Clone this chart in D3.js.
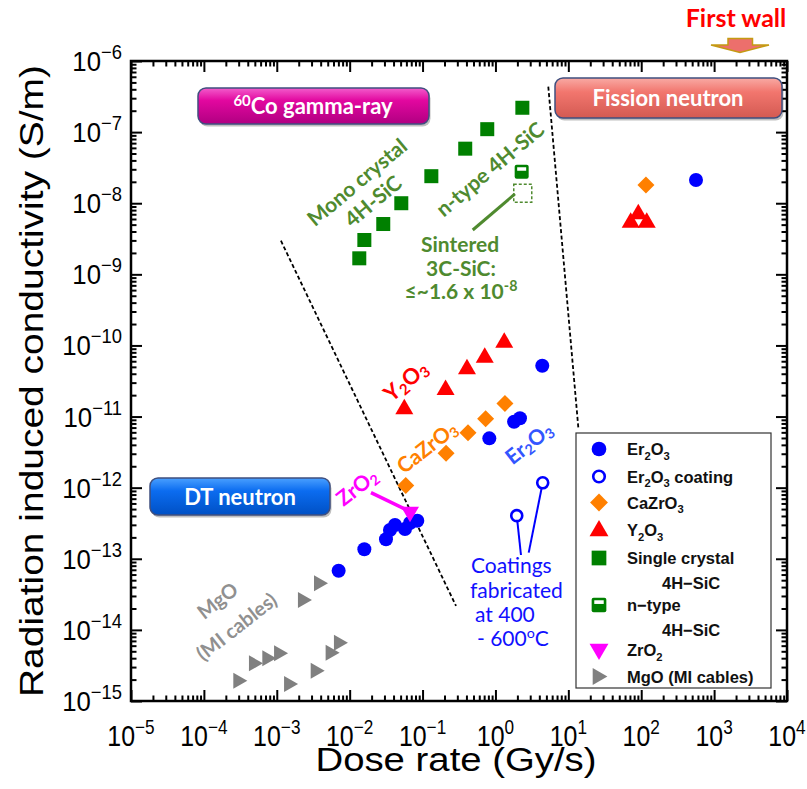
<!DOCTYPE html>
<html>
<head>
<meta charset="utf-8">
<script src="https://cdn.jsdelivr.net/npm/d3@7"></script>
<style>
  body { margin: 0; background: #fff; }
  svg { display: block; }
</style>
</head>
<body>
<script>
// valori: [dose rate (Gy/s), conducibilità (S/m)]
var er2o3 = [[7.06e-3, 6.79e-14], [0.0159, 1.36e-13], [0.0315, 1.88e-13], [0.0357, 2.54e-13], [0.0419, 2.98e-13],
             [0.0574, 2.62e-13], [0.0673, 3.18e-13], [0.0847, 3.43e-13], [0.824, 4.94e-12], [1.80, 8.47e-12],
             [2.17, 9.45e-12], [4.39, 5.19e-11], [564, 2.12e-8]];
var er2o3Coating = [[1.96, 4.04e-13], [4.45, 1.17e-12]];
var cazro3 = [[0.0588, 1.07e-12], [0.210, 3.04e-12], [0.420, 5.93e-12], [0.734, 9.33e-12], [1.35, 1.53e-11], [116, 1.80e-8]];
var y2o3 = [[0.0562, 1.31e-11], [0.207, 2.44e-11], [0.407, 4.77e-11], [0.713, 6.95e-11], [1.32, 1.13e-10],
            [71.7, 5.50e-9], [119, 5.50e-9], [91.2, 7.21e-9]];
var sicSingle = [[0.01355, 1.68e-9], [0.0159, 3.04e-9], [0.0289, 5.1e-9], [0.0511, 1.0e-8], [0.132, 2.4e-8],
                 [0.385, 5.85e-8], [0.772, 1.1e-7], [2.34, 2.2e-7]];
var sicNtype = [[2.29, 2.77e-8]];
var sicSintered = [[2.37, 1.38e-8]];
var zro2 = [[0.0673, 4.45e-13]];
var mgo = [[3.06e-4, 1.93e-15], [5.02e-4, 3.39e-15], [7.66e-4, 3.98e-15], [1.11e-3, 4.69e-15], [1.52e-3, 1.73e-15],
           [2.36e-3, 2.63e-14], [3.53e-3, 2.67e-15], [3.92e-3, 4.52e-14], [5.66e-3, 4.78e-15], [7.36e-3, 6.61e-15]];

// esponenti delle etichette sugli assi
var xExp = [-5, -4, -3, -2, -1, 0, 1, 2, 3, 4];
var yExp = [-15, -14, -13, -12, -11, -10, -9, -8, -7, -6];

// linee tratteggiate che separano le regioni (coordinate nei dati)
var leftBoundary = [[1.14e-3, 2.97e-9], [0.288, 2.17e-14]];
var rightBoundary = [[5.31, 4.36e-7], [13.7, 7.06e-12]];
// linee di richiamo
var coatingLeaders = [[[4.45, 1.17e-12], [2.86, 1.22e-13]], [[1.96, 4.04e-13], [2.24, 1.13e-13]]];
var sinteredLeader = [[0.488, 4.2e-9], [1.85, 1.35e-8]];
var zro2Arrow = [[0.0196, 8.5e-13], [0.0574, 5.0e-13]];

var W = 807, H = 789;
var svg = d3.select("body").append("svg").attr("width", W).attr("height", H);

var x = d3.scaleLog().domain([1e-5, 1e4]).range([131, 787]);
var y = d3.scaleLog().domain([1e-15, 1e-6]).range([701, 61]);

var sans = "'Liberation Sans', Arial, sans-serif";
var cal = "Lato, 'Open Sans', sans-serif";

var defs = svg.append("defs");
function grad(id, c1, c2, c3) {
    var g = defs.append("linearGradient").attr("id", id).attr("x1", 0).attr("y1", 0).attr("x2", 0).attr("y2", 1);
    g.append("stop").attr("offset", "0%").attr("stop-color", c1);
    g.append("stop").attr("offset", "35%").attr("stop-color", c2);
    g.append("stop").attr("offset", "100%").attr("stop-color", c3);
}
grad("gMag", "#f35ccc", "#e2079f", "#b00081");
grad("gFis", "#f9aaa4", "#f2766e", "#d35a52");
grad("gDT", "#4aa0ff", "#0b6cf0", "#0050c4");

// tacche degli assi (interne, su tutti e quattro i lati)
var majors = d3.range(-5, 5).map(function(e) { return Math.pow(10, e); });
var minorsX = [];
d3.range(-5, 4).forEach(function(e) { for (var k = 2; k < 10; k++) minorsX.push(k * Math.pow(10, e)); });
var majorsY = d3.range(-15, -5).map(function(e) { return Math.pow(10, e); });
var minorsY = [];
d3.range(-15, -6).forEach(function(e) { for (var k = 2; k < 10; k++) minorsY.push(k * Math.pow(10, e)); });

function tickGroup(axis, tr) {
    svg.append("g").attr("transform", tr).call(axis)
        .call(function(g) { g.select(".domain").remove(); })
        .selectAll("line").attr("stroke", "#000").attr("stroke-width", 2);
}
[[majorsY, 11], [minorsY, 5.5]].forEach(function(p) {
    tickGroup(d3.axisLeft(y).tickValues(p[0]).tickSize(-p[1]).tickFormat(""), "translate(131,0)");
    tickGroup(d3.axisRight(y).tickValues(p[0]).tickSize(-p[1]).tickFormat(""), "translate(787,0)");
});
[[majors, 11], [minorsX, 5.5]].forEach(function(p) {
    tickGroup(d3.axisBottom(x).tickValues(p[0]).tickSize(-p[1]).tickFormat(""), "translate(0,701)");
    tickGroup(d3.axisTop(x).tickValues(p[0]).tickSize(-p[1]).tickFormat(""), "translate(0,61)");
});
svg.append("rect").attr("x", 131).attr("y", 61).attr("width", 656).attr("height", 640)
    .attr("fill", "none").attr("stroke", "#000").attr("stroke-width", 2.5);

// etichette delle tacche: 10 con esponente, font compresso in orizzontale
function powLabel(px, py, e, anchor, fs, sx) {
    var t = svg.append("text").attr("transform", "translate(" + px + "," + py + ") scale(" + sx + ",1)")
        .attr("text-anchor", anchor).attr("font-family", sans).attr("font-size", fs);
    t.append("tspan").text("10");
    t.append("tspan").attr("font-size", 20).attr("dy", -12).text(String(e).replace("-", "\u2212"));
}
xExp.forEach(function(e) { powLabel(x(Math.pow(10, e)), 746, e, "middle", 29, 0.86); });
yExp.forEach(function(e) { powLabel(122, y(Math.pow(10, e)) + 10, e, "end", 28, 0.92); });

// titoli degli assi
svg.append("text").attr("x", 456).attr("y", 771).attr("text-anchor", "middle")
    .attr("font-family", sans).attr("font-size", 33)
    .attr("textLength", 281).attr("lengthAdjust", "spacingAndGlyphs").text("Dose rate (Gy/s)");
svg.append("text").attr("transform", "translate(43,381) rotate(-90)").attr("text-anchor", "middle")
    .attr("font-family", sans).attr("font-size", 33)
    .attr("textLength", 632).attr("lengthAdjust", "spacingAndGlyphs").text("Radiation induced conductivity (S/m)");

// linee tratteggiate
var line = d3.line().x(function(d) { return x(d[0]); }).y(function(d) { return y(d[1]); });
[leftBoundary, rightBoundary].forEach(function(b) {
    svg.append("path").attr("d", line(b)).attr("fill", "none").attr("stroke", "#000")
        .attr("stroke-width", 1.8).attr("stroke-dasharray", "4,2.5");
});

// testo con pedici / apici
function rich(t, parts, fs) {
    var shift = 0;
    parts.forEach(function(p) {
        var s = t.append("tspan").text(p.t);
        var target = p.sub ? fs * 0.28 : (p.sup ? -fs * 0.38 : 0);
        if (p.sub || p.sup) s.attr("font-size", fs * 0.68);
        if (target !== shift) s.attr("dy", target - shift);
        shift = target;
    });
    return t;
}

// riquadri delle sorgenti di irraggiamento
function labelBox(x0, y0, w, h, fill, parts, tx, ty, fs) {
    svg.append("rect").attr("x", x0 + 1.5).attr("y", y0 + 2.5).attr("width", w).attr("height", h).attr("rx", 8)
        .attr("fill", "#000").attr("opacity", 0.25);
    svg.append("rect").attr("x", x0).attr("y", y0).attr("width", w).attr("height", h).attr("rx", 8)
        .attr("fill", fill).attr("stroke", "#3f4f7f").attr("stroke-width", 1.5);
    var t = svg.append("text").attr("x", tx).attr("y", ty).attr("text-anchor", "middle")
        .attr("font-family", cal).attr("font-weight", "bold").attr("font-size", fs).attr("fill", "#fff");
    rich(t, parts, fs);
}
labelBox(198, 88, 231, 36, "url(#gMag)", [{t: "60", sup: true}, {t: "Co gamma-ray"}], 313, 114, 22);
labelBox(555, 78, 227, 40, "url(#gFis)", [{t: "Fission neutron"}], 668, 106, 22);
labelBox(150, 478, 180, 37, "url(#gDT)", [{t: "DT neutron"}], 240, 505, 22);

// "First wall" con freccia
svg.append("text").attr("x", 736).attr("y", 27).attr("text-anchor", "middle")
    .attr("font-family", cal).attr("font-weight", "bold").attr("font-size", 25).attr("fill", "#ff0000").text("First wall");
svg.append("path").attr("d", "M728,38.5 L752.5,38.5 L752.5,45 L769,45 L740,52.5 L711,45 L728,45 Z")
    .attr("fill", "#ec6f6c").attr("stroke", "#c49a12").attr("stroke-width", 1.5);

// linee di richiamo
coatingLeaders.forEach(function(l) {
    svg.append("path").attr("d", line(l)).attr("stroke", "#0000ff").attr("stroke-width", 2).attr("fill", "none");
});
svg.append("path").attr("d", line(sinteredLeader)).attr("stroke", "#4f8a2f").attr("stroke-width", 3).attr("fill", "none");

// forme dei marcatori
var shapes = {
    circle: function(g, s) { g.append("circle").attr("r", 7 * s).attr("fill", "#0000ff"); },
    ocircle: function(g, s) { g.append("circle").attr("r", 5.5 * s).attr("fill", "#fff").attr("stroke", "#0000ff").attr("stroke-width", 2.6); },
    diamond: function(g, s) { g.append("path").attr("d", "M0,-8.5L8.5,0L0,8.5L-8.5,0Z").attr("transform", "scale(" + s + ")").attr("fill", "#ff8000"); },
    triUp: function(g, s) { g.append("path").attr("d", "M0,-9.5L9,6L-9,6Z").attr("transform", "scale(" + s + ")").attr("fill", "#ff0000"); },
    square: function(g, s) { g.append("rect").attr("x", -7 * s).attr("y", -7 * s).attr("width", 14 * s).attr("height", 14 * s).attr("fill", "#008000"); },
    ntype: function(g, s) {
        g.append("rect").attr("x", -7 * s).attr("y", -7 * s).attr("width", 14 * s).attr("height", 14 * s).attr("rx", 2).attr("fill", "#008000");
        g.append("rect").attr("x", -4.5 * s).attr("y", -4.5 * s).attr("width", 9 * s).attr("height", 3.5 * s).attr("fill", "#fff");
    },
    dashsq: function(g, s) { g.append("rect").attr("x", -9 * s).attr("y", -9 * s).attr("width", 18 * s).attr("height", 18 * s).attr("fill", "none").attr("stroke", "#4f8a2f").attr("stroke-width", 1.5).attr("stroke-dasharray", "3,2"); },
    triDown: function(g, s) { g.append("path").attr("d", "M-9,-6L9,-6L0,9.5Z").attr("transform", "scale(" + s + ")").attr("fill", "#ff00ff"); },
    triRight: function(g, s) { g.append("path").attr("d", "M-6,-8L8,0L-6,8Z").attr("transform", "scale(" + s + ")").attr("fill", "#808080"); }
};

function drawSeries(data, shape) {
    svg.append("g").selectAll("g").data(data).enter().append("g")
        .attr("transform", function(d) { return "translate(" + x(d[0]) + "," + y(d[1]) + ")"; })
        .each(function() { shapes[shape](d3.select(this), 1); });
}
drawSeries(mgo, "triRight");
drawSeries(sicSingle, "square");
drawSeries(sicNtype, "ntype");
drawSeries(sicSintered, "dashsq");
drawSeries(cazro3, "diamond");
drawSeries(y2o3, "triUp");
drawSeries(er2o3, "circle");
drawSeries(er2o3Coating, "ocircle");

// freccia ZrO2
svg.append("path").attr("d", line(zro2Arrow)).attr("stroke", "#ff00ff").attr("stroke-width", 3.5).attr("fill", "none");
drawSeries(zro2, "triDown");

// etichette ruotate vicino ai dati
function rotLabel(cx, cy, ang, parts, fs, color) {
    var t = svg.append("text").attr("transform", "translate(" + cx + "," + cy + ") rotate(" + ang + ")")
        .attr("text-anchor", "middle").attr("dominant-baseline", "central")
        .attr("font-family", cal).attr("font-weight", "bold").attr("font-size", fs).attr("fill", color);
    rich(t, parts, fs);
}
var green = "#4f8a2f";
rotLabel(356, 181, -40, [{t: "Mono crystal"}], 21, green);
rotLabel(372, 200, -40, [{t: "4H-SiC"}], 21, green);
rotLabel(489, 168, -40, [{t: "n-type 4H-SiC"}], 21, green);
rotLabel(405, 380, -40, [{t: "Y"}, {t: "2", sub: true}, {t: "O"}, {t: "3", sub: true}], 22, "#ff0000");
rotLabel(426, 446, -38, [{t: "CaZrO"}, {t: "3", sub: true}], 21, "#ff8000");
rotLabel(528, 442, -38, [{t: "Er"}, {t: "2", sub: true}, {t: "O"}, {t: "3", sub: true}], 21, "#3355ff");
rotLabel(356, 486, -38, [{t: "ZrO"}, {t: "2", sub: true}], 21, "#ff00ff");
rotLabel(217, 600, -38, [{t: "MgO"}], 20, "#909090");
rotLabel(236, 626, -38, [{t: "(MI cables)"}], 20, "#909090");

// testo "Sintered 3C-SiC"
var sint = svg.append("g").attr("font-family", cal).attr("font-weight", "bold").attr("font-size", 21)
    .attr("fill", green).attr("text-anchor", "middle");
sint.append("text").attr("x", 460).attr("y", 252).text("Sintered");
sint.append("text").attr("x", 461).attr("y", 276).text("3C-SiC:");
rich(sint.append("text").attr("x", 461).attr("y", 299),
    [{t: "\u2264~1.6 x 10"}, {t: "-8", sup: true}], 21);

// testo dei rivestimenti
var coat = svg.append("g").attr("font-family", cal).attr("font-size", 21).attr("fill", "#1010ff");
coat.append("text").attr("x", 471).attr("y", 573).text("Coatings");
coat.append("text").attr("x", 470).attr("y", 598).text("fabricated");
coat.append("text").attr("x", 475).attr("y", 622).text("at 400");
rich(coat.append("text").attr("x", 477).attr("y", 646), [{t: "- 600"}, {t: "o", sup: true}, {t: "C"}], 21);

// legenda
var legendItems = [
    {shape: "circle", lines: [[{t: "Er"}, {t: "2", sub: true}, {t: "O"}, {t: "3", sub: true}]]},
    {shape: "ocircle", lines: [[{t: "Er"}, {t: "2", sub: true}, {t: "O"}, {t: "3", sub: true}, {t: " coating"}]]},
    {shape: "diamond", lines: [[{t: "CaZrO"}, {t: "3", sub: true}]]},
    {shape: "triUp", lines: [[{t: "Y"}, {t: "2", sub: true}, {t: "O"}, {t: "3", sub: true}]]},
    {shape: "square", lines: [[{t: "Single crystal"}], [{t: "4H\u2212SiC"}]]},
    {shape: "ntype", lines: [[{t: "n\u2212type"}], [{t: "4H\u2212SiC"}]]},
    {shape: "triDown", lines: [[{t: "ZrO"}, {t: "2", sub: true}]]},
    {shape: "triRight", lines: [[{t: "MgO (MI cables)"}]]}
];
var legendRows = [449, 476.5, 502.5, 530, 558, 605, 650, 676.5];
var lg = svg.append("g");
lg.append("rect").attr("x", 576).attr("y", 433).attr("width", 195).attr("height", 255)
    .attr("fill", "#fff").attr("stroke", "#333").attr("stroke-width", 1.2);
legendItems.forEach(function(it, i) {
    var cy = legendRows[i];
    var m = lg.append("g").attr("transform", "translate(599," + cy + ")");
    shapes[it.shape](m, 1.05);
    it.lines.forEach(function(ln, j) {
        var t = lg.append("text").attr("x", j === 0 ? 627 : 662).attr("y", cy + 6 + j * 24.5)
            .attr("font-family", sans).attr("font-weight", "bold")
            .attr("font-size", 16.5).attr("fill", "#111");
        rich(t, ln, 16.5);
    });
});
</script>
</body>
</html>
